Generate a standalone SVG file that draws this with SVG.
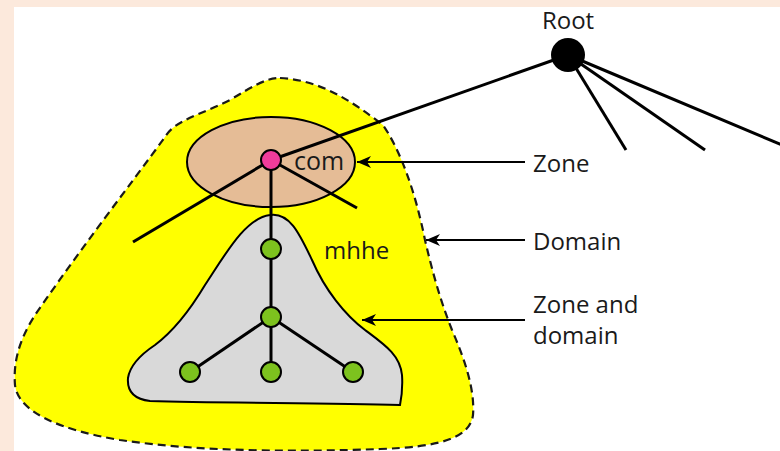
<svg xmlns="http://www.w3.org/2000/svg" width="780" height="451" viewBox="0 0 780 451">
<defs>
<style>
.t{font-family:"Open Sans","Liberation Sans",sans-serif;font-size:24px;fill:#1a1a1a}
.edge{stroke:#000;stroke-width:3;fill:none;stroke-linecap:butt}
.arr{stroke:#000;stroke-width:2;fill:none;marker-end:url(#ah)}
.g{fill:#7dc21e;stroke:#000;stroke-width:2}
</style>
<marker id="ah" viewBox="0 0 14 12" refX="14" refY="6" markerWidth="14" markerHeight="12" markerUnits="userSpaceOnUse" orient="auto">
<path d="M0,0 L14,6 L0,12 L4,6 Z" fill="#000"/>
</marker>
</defs>
<rect width="780" height="451" fill="#fce9dc"/>
<rect x="14" y="7" width="766" height="444" fill="#fff"/>
<g id="domain">
<path d="M280,78 C320,80 350,100 383,125 C400,150 415,190 425,240 C432,270 440,300 452,330 C465,360 475,390 473,415 C470,438 440,447 380,449 C300,452 200,452 120,440 C60,430 18,412 15,385 C13,360 20,335 42,305 C80,250 130,185 165,137 C175,120 200,115 230,100 C250,88 265,78 280,78 Z" fill="#ffff00" stroke="#1a1a1a" stroke-width="2.2" stroke-dasharray="8,5"/>
</g>
<g id="zone-com">
<ellipse cx="271" cy="162" rx="84" ry="45" fill="#e5bc96" stroke="#000" stroke-width="2"/>
</g>
<g id="zone-mhhe">
<path d="M270,215 C290,212 300,235 312,260 C325,290 345,315 365,330 C385,345 400,355 402,375 C403,390 401,400 400,405 C320,403 220,403 150,401 C133,399 127,390 128,378 C130,365 140,355 155,345 C175,330 190,310 205,285 C225,255 245,218 270,215 Z" fill="#d9d9d9" stroke="#000" stroke-width="2"/>
</g>
<g id="connectors">
<line class="edge" x1="568" y1="55" x2="271" y2="160"/>
<line class="edge" x1="568" y1="55" x2="626" y2="150"/>
<line class="edge" x1="568" y1="55" x2="705" y2="150"/>
<line class="edge" x1="568" y1="55" x2="782" y2="145"/>
<line class="edge" x1="271" y1="160" x2="133" y2="242"/>
<line class="edge" x1="271" y1="160" x2="357" y2="208"/>
<line class="edge" x1="271" y1="160" x2="271" y2="372"/>
<line class="edge" x1="271" y1="317" x2="190" y2="372"/>
<line class="edge" x1="271" y1="317" x2="353" y2="372"/>
<line class="arr" x1="525" y1="162" x2="357" y2="162"/>
<line class="arr" x1="525" y1="240" x2="426" y2="240"/>
<line class="arr" x1="525" y1="320" x2="362" y2="320"/>
</g>
<g id="root"><circle cx="568" cy="55" r="17" fill="#000"/><text class="t" x="568" y="29" text-anchor="middle">Root</text></g>
<g id="com"><circle cx="271" cy="160" r="10" fill="#f03c9b" stroke="#000" stroke-width="2"/><text class="t" x="294" y="170" style="font-size:25px">com</text></g>
<g id="mhhe"><circle class="g" cx="271" cy="249" r="10"/><text class="t" x="324" y="259">mhhe</text></g>
<g id="n-mid"><circle class="g" cx="271" cy="317" r="10"/></g>
<g id="n-left"><circle class="g" cx="190" cy="372" r="10"/></g>
<g id="n-center"><circle class="g" cx="271" cy="372" r="10"/></g>
<g id="n-right"><circle class="g" cx="353" cy="372" r="10"/></g>
<g id="label-zone"><text class="t" x="533" y="172">Zone</text></g>
<g id="label-domain"><text class="t" x="533" y="250">Domain</text></g>
<g id="label-zd"><text class="t" x="533" y="313">Zone and</text><text class="t" x="533" y="344">domain</text></g>
</svg>
